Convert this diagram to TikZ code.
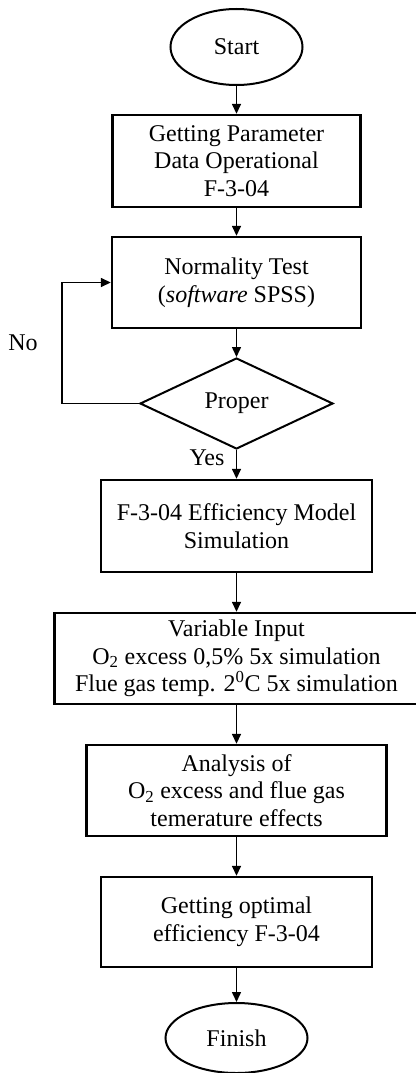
\documentclass[tikz,border=0pt]{standalone}
\usepackage{fontspec}
\setmainfont{Liberation Serif}
\usetikzlibrary{shapes.geometric,arrows.meta}
\begin{document}
\begin{tikzpicture}[x=1pt,y=-1pt,
  every node/.style={font=\fontsize{24}{27.6}\selectfont, align=center},
  stepbox/.style={draw, line width=2.4pt, rectangle, inner sep=0pt},
  terminal/.style={draw, line width=2pt, ellipse, inner sep=0pt},
  decision/.style={draw, line width=2pt, diamond, inner sep=0pt, aspect=2},
  flow/.style={line width=1.5pt, -{Triangle[length=10pt,width=9pt]}},
  plain/.style={inner sep=0pt}]
\useasboundingbox (0,0) rectangle (415,1073);

% process steps
\node[terminal, minimum width=132pt, minimum height=76pt] (start) at (236.5,47) {Start};
\node[stepbox, minimum width=248pt, minimum height=92pt] (b1) at (236.5,161)
  {Getting Parameter\\Data Operational\\F-3-04};
\node[stepbox, minimum width=249pt, minimum height=91pt] (b2) at (236.5,282.5)
  {Normality Test\\(\textit{software} SPSS)};
\node[decision, minimum width=193pt, minimum height=91pt] (dec) at (236.5,403.5) {Proper};
\node[stepbox, minimum width=271pt, minimum height=92pt] (b3) at (236.5,526)
  {F-3-04 Efficiency Model\\Simulation};
\node[stepbox, minimum width=364pt, minimum height=91pt] (b4) at (236.5,658.5)
  {Variable Input\\O\textsubscript{2} excess 0,5\% 5x simulation\\Flue gas temp. 2\textsuperscript{0}C 5x simulation};
\node[stepbox, minimum width=300pt, minimum height=91pt] (b5) at (236.5,790.5)
  {Analysis of\\O\textsubscript{2} excess and flue gas\\temerature effects};
\node[stepbox, minimum width=271pt, minimum height=90pt] (b6) at (236.5,922)
  {Getting optimal\\efficiency F-3-04};
\node[terminal, minimum width=142pt, minimum height=70pt] (finish) at (236.5,1038) {Finish};

% branch labels
\node[plain] (no) at (23,343) {No};
\node[plain] (yes) at (207,458) {Yes};

% loop corners for the "No" branch
\coordinate (lb) at (62,403.5);
\coordinate (lt) at (62,282.5);

% connectors
\draw[flow] (start.south) -- (b1.north);
\draw[flow] (b1.south) -- (b2.north);
\draw[flow] (b2.south) -- (dec.north);
\draw[flow] (dec.south) -- (b3.north);
\draw[flow] (b3.south) -- (b4.north);
\draw[flow] (b4.south) -- (b5.north);
\draw[flow] (b5.south) -- (b6.north);
\draw[flow] (b6.south) -- (finish.north);
\draw[flow] (dec.west) -- (lb) -- (lt) -- (b2.west);
\end{tikzpicture}
\end{document}
